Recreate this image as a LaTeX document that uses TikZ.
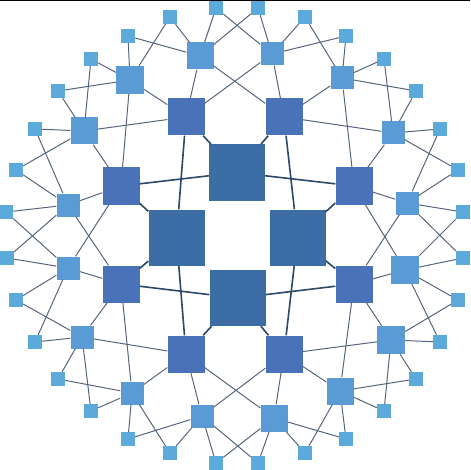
\documentclass[tikz,border=0pt]{standalone}
\definecolor{hubfill}{HTML}{3D6DA5}
\definecolor{midfill}{HTML}{4A72B8}
\definecolor{thirdfill}{HTML}{5B9BD5}
\definecolor{outerfill}{HTML}{5CA9DC}
\definecolor{hubline}{HTML}{2B4868}
\definecolor{linkline}{HTML}{56657E}
\tikzset{
	box/.style={rectangle, inner sep=0pt, draw=none},
	hub/.style={box, fill=hubfill, minimum size=56pt},
	mid/.style={box, fill=midfill, minimum size=37pt},
	third/.style={box, fill=thirdfill},
	outer/.style={box, fill=outerfill, minimum size=14pt},
	hubedge/.style={hubline, line width=1.6pt},
	linkedge/.style={linkline, line width=1pt},
}
\begin{document}
\begin{tikzpicture}[x=1pt,y=-1pt]
	\useasboundingbox (0,0) rectangle (470,470);
	\draw[black, line width=1pt] (0,0.5) -- (470,0.5);
	% inner four
	\node[hub] (c0) at (297.5,237.5) {};
	\node[hub] (c1) at (237,172.5) {};
	\node[hub] (c2) at (176.5,237.5) {};
	\node[hub] (c3) at (237.5,298) {};
	% second ring
	\foreach \x/\y [count=\i from 0] in {354/186, 284/117, 186/117, 121/186, 121/284, 186/354, 284/354, 354/284}
		\node[mid] (m\i) at (\x,\y) {};
	% third ring
	\foreach \x/\y/\s [count=\i from 0] in {407/203/23, 393/133/23, 342/78/23, 272/54/23, 200/56/27, 130/80/28, 84/131/27, 68/205/23,
			68/268/23, 82/337/23, 132/393/23, 202/416/23, 274/418/27, 340/391/27, 391/340/28, 405/270/28}
		\node[third, minimum size=\s pt] (t\i) at (\x,\y) {};
	% outer ring
	\foreach \x/\y [count=\i from 0] in {463/212, 458/170, 440/129, 416/91, 384/59, 346/36, 305/17, 258/8,
			216/8, 170/17, 128/36, 91/59, 58/91, 35/129, 16/170, 6/212,
			7/258, 16/300, 35/342, 58/379, 91/411, 128/439, 170/453, 216/463,
			258/463, 305/453, 346/439, 384/411, 416/379, 440/342, 458/300, 463/258}
		\node[outer] (o\i) at (\x,\y) {};
	% links
	\foreach \k in {0,...,3}
		\foreach \d in {-2,...,1} {
			\pgfmathtruncatemacro\j{mod(2*\k+\d+8,8)}
			\draw[hubedge] (c\k) -- (m\j);
		}
	\foreach \j in {0,...,7}
		\foreach \d in {-1,...,2} {
			\pgfmathtruncatemacro\i{mod(2*\j+\d+16,16)}
			\draw[linkedge] (m\j) -- (t\i);
		}
	\foreach \i in {0,...,15}
		\foreach \d in {-1,...,2} {
			\pgfmathtruncatemacro\n{mod(2*\i+\d+32,32)}
			\draw[linkedge] (t\i) -- (o\n);
		}
\end{tikzpicture}
\end{document}
